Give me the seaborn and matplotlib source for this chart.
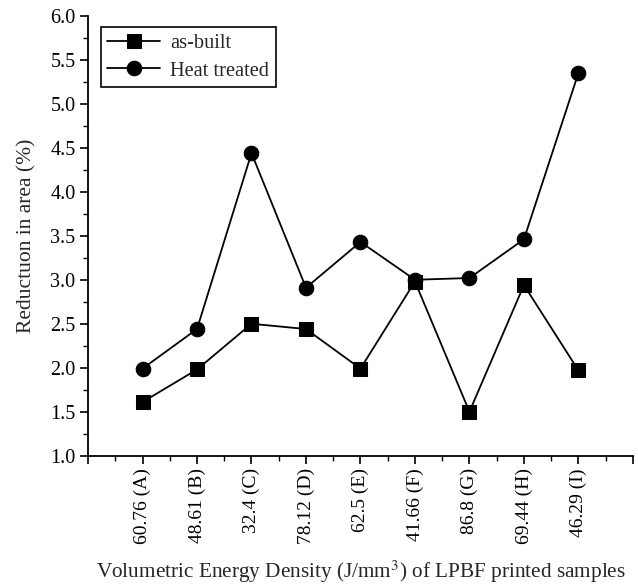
import matplotlib
matplotlib.use("Agg")
import matplotlib.pyplot as plt
from matplotlib.ticker import MultipleLocator
import seaborn as sns
import pandas as pd

categories = ["60.76 (A)", "48.61 (B)", "32.4 (C)", "78.12 (D)", "62.5 (E)",
              "41.66 (F)", "86.8 (G)", "69.44 (H)", "46.29 (I)"]
as_built = [1.61, 1.98, 2.50, 2.44, 1.99, 2.98, 1.50, 2.94, 1.97]
heat_treated = [1.99, 2.44, 4.44, 2.91, 3.43, 3.00, 3.02, 3.46, 5.35]

sns.set_style("ticks")
plt.rcParams["font.family"] = ["Liberation Serif", "DejaVu Serif"]
plt.rcParams["mathtext.fontset"] = "stix"

pos = list(range(1, len(categories) + 1))
df = pd.DataFrame({"pos": pos + pos,
                   "value": as_built + heat_treated,
                   "series": ["as-built"] * len(pos) + ["Heat treated"] * len(pos)})

fig = plt.figure(figsize=(6.38, 5.88), dpi=100)
ax = fig.add_axes([0.138, 0.225, 0.854, 0.748])

sns.lineplot(data=df[df.series == "as-built"], x="pos", y="value", ax=ax,
             color="black", marker="s", markersize=9.5, linewidth=1.3,
             markeredgecolor="black", label="as-built", sort=False)
sns.lineplot(data=df[df.series == "Heat treated"], x="pos", y="value", ax=ax,
             color="black", marker="o", markersize=10.5, linewidth=1.3,
             markeredgecolor="black", label="Heat treated", sort=False)

ax.set_xlim(0, 10)
ax.set_ylim(1.0, 6.0)
ax.xaxis.set_minor_locator(MultipleLocator(0.5))
ax.yaxis.set_minor_locator(MultipleLocator(0.25))
yt = [1.0, 1.5, 2.0, 2.5, 3.0, 3.5, 4.0, 4.5, 5.0, 5.5, 6.0]
ax.set_yticks(yt)
ax.set_yticklabels([f"{v:.1f}" for v in yt], fontsize=14.5)

ax.tick_params(axis="both", which="major", direction="out", length=6, width=1.2, colors="black", pad=3)
ax.tick_params(axis="both", which="minor", direction="out", length=3.5, width=1.0, colors="black")
for s in ["top", "right"]:
    ax.spines[s].set_visible(False)
for s in ["left", "bottom"]:
    ax.spines[s].set_linewidth(1.3)
    ax.spines[s].set_color("black")

ax.set_xticks([0] + pos + [10])
ax.set_xticklabels([""] + categories + [""], rotation=90, fontsize=14)

ax.set_ylabel("Reductuon in area (%)", fontsize=15.5, labelpad=10)
ax.set_xlabel("Volumetric Energy Density (J/mm$^3$) of LPBF printed samples",
              fontsize=15.3, labelpad=10)

leg = ax.legend(loc="upper left", bbox_to_anchor=(0.023, 0.974), borderaxespad=0,
                fontsize=14.7, frameon=True, fancybox=False, edgecolor="black",
                framealpha=1, handlelength=2.6, borderpad=0.32, labelspacing=0.4,
                handletextpad=0.5)
leg.get_frame().set_linewidth(1.2)

fig.savefig("out.png", dpi=100)
